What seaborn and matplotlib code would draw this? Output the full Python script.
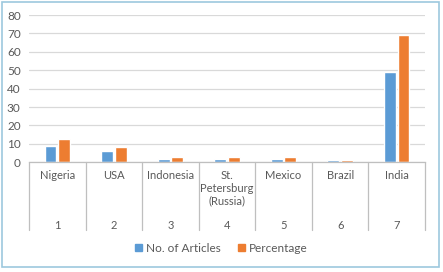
import matplotlib
matplotlib.use("Agg")
import matplotlib.pyplot as plt
import seaborn as sns
import pandas as pd
from matplotlib.transforms import blended_transform_factory
from matplotlib.patches import Rectangle

categories = ["Nigeria", "USA", "Indonesia", "St.\nPetersburg\n(Russia)", "Mexico", "Brazil", "India"]
ranks = ["1", "2", "3", "4", "5", "6", "7"]
articles = [9, 6, 2, 2, 2, 1, 49]
percentage = [12.68, 8.45, 2.82, 2.82, 2.82, 1.41, 69.01]
series = ["No. of Articles", "Percentage"]
colors = ["#5B9BD5", "#ED7D31"]

df = pd.DataFrame({
    "pos": list(range(len(categories))) * 2,
    "value": articles + percentage,
    "series": [series[0]] * len(categories) + [series[1]] * len(categories),
})

sns.set_theme(style="white")
plt.rcParams["font.family"] = ["Lato", "DejaVu Sans"]
txt = "#595959"
fs = 8.5

fig = plt.figure(figsize=(4.43, 2.72), dpi=100)
ax = fig.add_axes([29 / 443, 1 - 162.3 / 272, (425 - 29) / 443, (162.3 - 15) / 272])

sns.barplot(data=df, x="pos", y="value", hue="series", palette=colors,
            width=0.48, gap=0.12, ax=ax, legend=False, saturation=1)

ax.set_ylim(0, 80)
ax.set_xlim(-0.5, len(categories) - 0.5)
ax.set_yticks(range(0, 81, 10))
ax.yaxis.grid(True, color="#D9D9D9", linewidth=0.9)
ax.set_axisbelow(True)
ax.tick_params(axis="y", labelsize=fs, colors=txt, length=0, pad=6)
ax.set_xticks([])
ax.set_xlabel("")
ax.set_ylabel("")
for s in ["left", "right", "top"]:
    ax.spines[s].set_visible(False)
ax.spines["bottom"].set_color("#BFBFBF")
ax.spines["bottom"].set_linewidth(0.9)

tr = blended_transform_factory(ax.transData, ax.transAxes)
ph = (162.3 - 15)
def ay(py):
    return (162.3 - py) / ph

for i, (c, r) in enumerate(zip(categories, ranks)):
    ax.text(i, ay(170), c, transform=tr, ha="center", va="top", fontsize=8,
            color=txt, linespacing=1.2)
    ax.text(i, ay(220), r, transform=tr, ha="center", va="top", fontsize=8, color=txt)
for i in range(len(categories) + 1):
    ax.plot([i - 0.5, i - 0.5], [0, ay(230)], transform=tr, color="#BFBFBF",
            linewidth=0.9, clip_on=False)

handles = [Rectangle((0, 0), 1, 1, color=c) for c in colors]
fig.legend(handles, series, loc="center", bbox_to_anchor=(0.5, 1 - 248 / 272),
           ncol=2, frameon=False, fontsize=fs, handlelength=0.6, handleheight=0.6,
           handletextpad=0.3, columnspacing=1.5, labelcolor=txt)

fig.patches.append(Rectangle((1.5 / 443, 1 - 266.5 / 272), 437 / 443, 265 / 272,
                             transform=fig.transFigure, fill=False,
                             edgecolor="#9DC8DE", linewidth=1.2))

fig.savefig("out.png", dpi=100, facecolor="white")
